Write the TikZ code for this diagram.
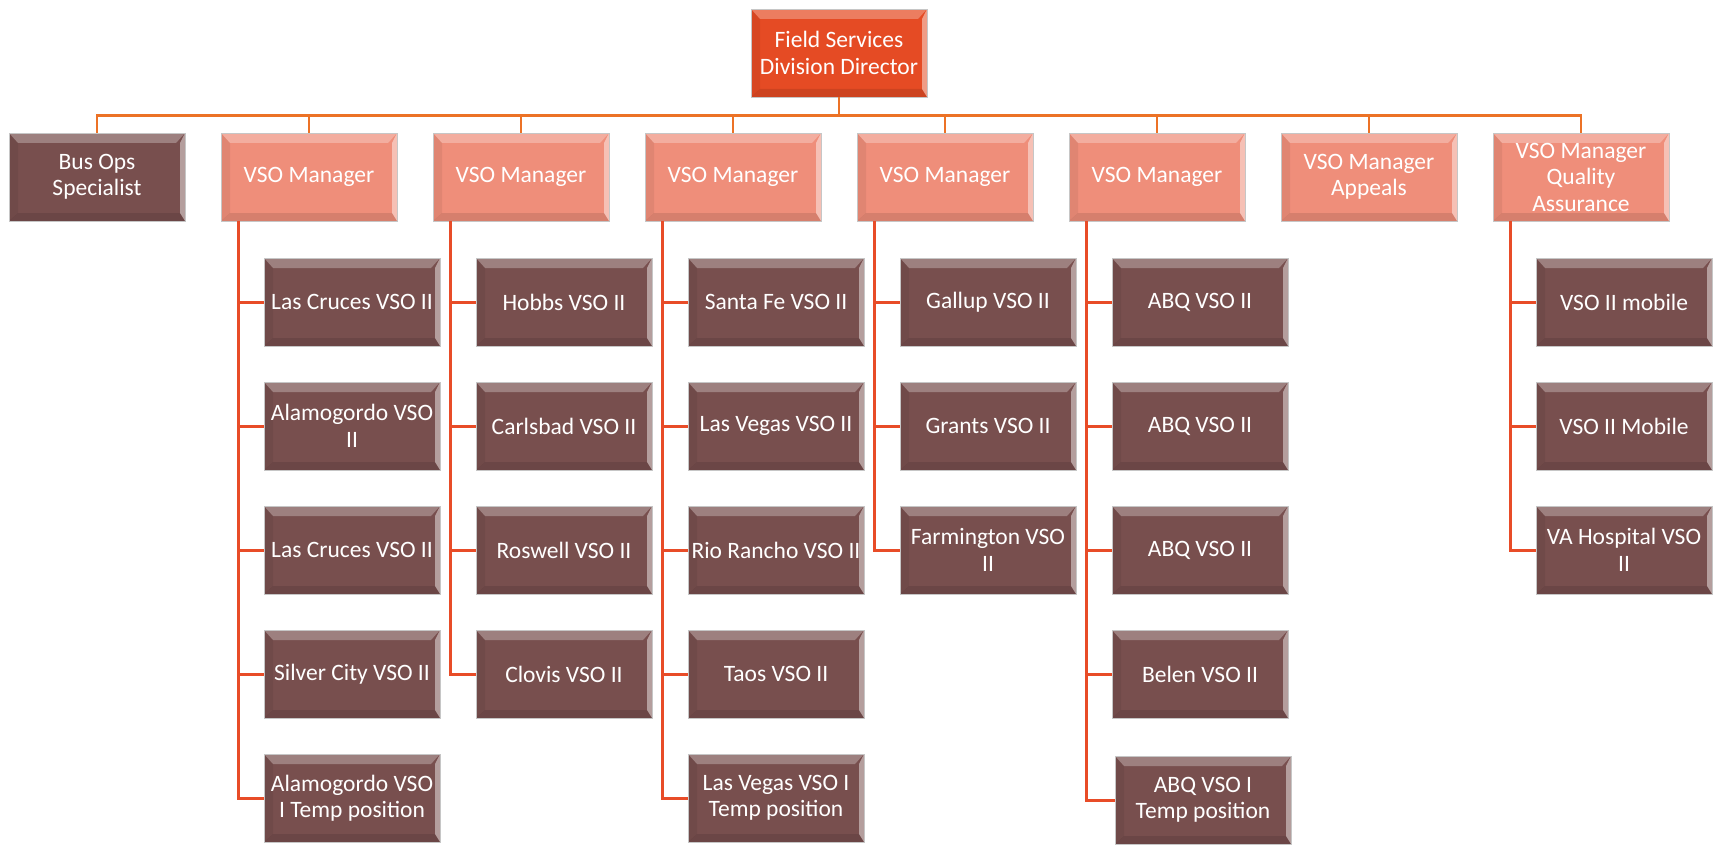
\documentclass[tikz,border=0pt]{standalone}
\usepackage{fontspec}
\setmainfont{Carlito}
\definecolor{topfill}{RGB}{229,75,36}
\definecolor{mgrfill}{RGB}{239,142,122}
\definecolor{staff}{RGB}{120,79,78}
\definecolor{busline}{RGB}{236,114,38}
\definecolor{kidline}{RGB}{232,76,40}
\tikzset{
  bevel/.style={path picture={
    \fill[white,opacity=.28] (path picture bounding box.north west) -- (path picture bounding box.north east)
       -- ([shift={(-9pt,-10pt)}]path picture bounding box.north east) -- ([shift={(9pt,-10pt)}]path picture bounding box.north west) -- cycle;
    \fill[white,opacity=.45] (path picture bounding box.north east) -- (path picture bounding box.south east)
       -- ([shift={(-5pt,8pt)}]path picture bounding box.south east) -- ([shift={(-5pt,-10pt)}]path picture bounding box.north east) -- cycle;
    \fill[black,opacity=.10] (path picture bounding box.south west) -- (path picture bounding box.south east)
       -- ([shift={(-5pt,8pt)}]path picture bounding box.south east) -- ([shift={(9pt,8pt)}]path picture bounding box.south west) -- cycle;
    \fill[black,opacity=.06] (path picture bounding box.north west) -- (path picture bounding box.south west)
       -- ([shift={(9pt,8pt)}]path picture bounding box.south west) -- ([shift={(9pt,-10pt)}]path picture bounding box.north west) -- cycle;
  }},
  box/.style={rectangle, minimum width=176pt, minimum height=88pt, inner sep=0pt,
    draw=gray!45, line width=0.9pt, text=white, align=center,
    font=\fontsize{23.5}{26.5}\selectfont, bevel},
  topbox/.style={box, fill=topfill},
  mgrbox/.style={box, fill=mgrfill},
  staffbox/.style={box, fill=staff},
  busconn/.style={draw=busline, line width=2.6pt},
  kidconn/.style={draw=kidline, line width=3pt},
}
\begin{document}
\begin{tikzpicture}[x=1pt,y=-1pt]
\path[use as bounding box] (0,0) rectangle (1723,845);

% top
\node[topbox] (top) at (839,53) {Field Services\\Division Director};

% level 2
\node[staffbox] (m0) at (97,177) {Bus Ops\\Specialist};
\node[mgrbox] (m1) at (309,177) {VSO Manager};
\node[mgrbox] (m2) at (521,177) {VSO Manager};
\node[mgrbox] (m3) at (733,177) {VSO Manager};
\node[mgrbox] (m4) at (945,177) {VSO Manager};
\node[mgrbox] (m5) at (1157,177) {VSO Manager};
\node[mgrbox] (m6) at (1369,177) {VSO Manager\\Appeals};
\node[mgrbox] (m7) at (1581,177) {VSO Manager\\Quality\\Assurance};

% column 1
\node[staffbox] (c11) at (352,302) {Las Cruces VSO II};
\node[staffbox] (c12) at (352,426) {Alamogordo VSO\\II};
\node[staffbox] (c13) at (352,550) {Las Cruces VSO II};
\node[staffbox] (c14) at (352,674) {Silver City VSO II};
\node[staffbox] (c15) at (352,798) {Alamogordo VSO\\I Temp position};
% column 2
\node[staffbox] (c21) at (564,302) {Hobbs VSO II};
\node[staffbox] (c22) at (564,426) {Carlsbad VSO II};
\node[staffbox] (c23) at (564,550) {Roswell VSO II};
\node[staffbox] (c24) at (564,674) {Clovis VSO II};
% column 3
\node[staffbox] (c31) at (776,302) {Santa Fe VSO II};
\node[staffbox] (c32) at (776,426) {Las Vegas VSO II};
\node[staffbox] (c33) at (776,550) {Rio Rancho VSO II};
\node[staffbox] (c34) at (776,674) {Taos VSO II};
\node[staffbox] (c35) at (776,798) {Las Vegas VSO I\\Temp position};
% column 4
\node[staffbox] (c41) at (988,302) {Gallup VSO II};
\node[staffbox] (c42) at (988,426) {Grants VSO II};
\node[staffbox] (c43) at (988,550) {Farmington VSO\\II};
% column 5
\node[staffbox] (c51) at (1200,302) {ABQ VSO II};
\node[staffbox] (c52) at (1200,426) {ABQ VSO II};
\node[staffbox] (c53) at (1200,550) {ABQ VSO II};
\node[staffbox] (c54) at (1200,674) {Belen VSO II};
\node[staffbox] (c55) at (1203,800) {ABQ VSO I\\Temp position};
% column 7
\node[staffbox] (c71) at (1624,302) {VSO II mobile};
\node[staffbox] (c72) at (1624,426) {VSO II Mobile};
\node[staffbox] (c73) at (1624,550) {VA Hospital VSO\\II};

% top-level connectors
\foreach \m in {m0,m1,m2,m3,m4,m5,m6,m7}
  \draw[busconn] (top.south) -- ++(0,18) -| (\m.north);

% child connectors
\foreach \m/\kids in {m1/{c11,c12,c13,c14,c15}, m2/{c21,c22,c23,c24}, m3/{c31,c32,c33,c34,c35},
                      m4/{c41,c42,c43}, m5/{c51,c52,c53,c54,c55}, m7/{c71,c72,c73}}
  \foreach \k in \kids
    \draw[kidconn] ([xshift=17.5pt]\m.south west) |- (\k.west);
\end{tikzpicture}
\end{document}
